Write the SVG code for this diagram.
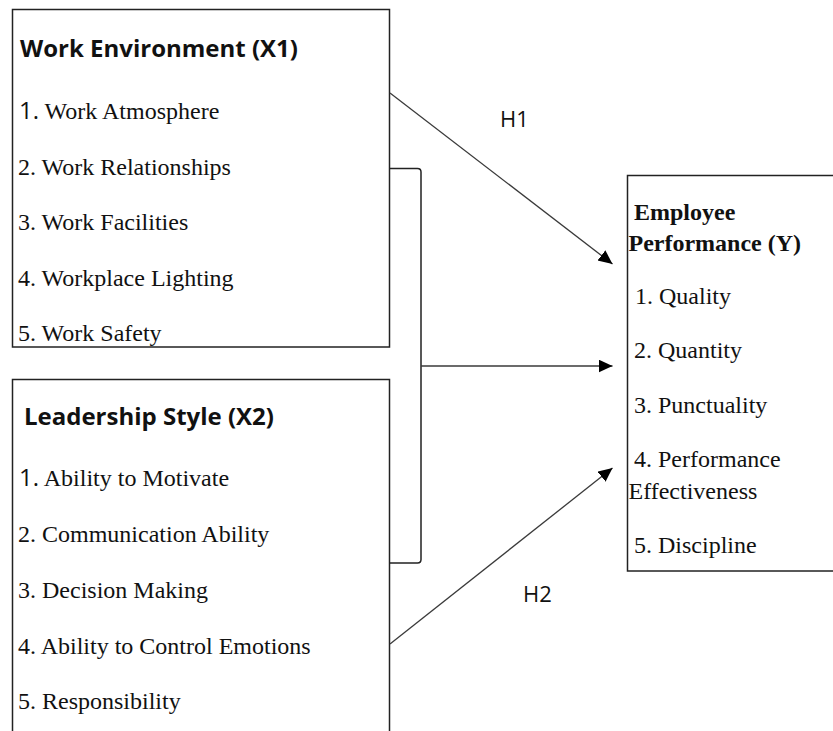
<svg xmlns="http://www.w3.org/2000/svg" width="833" height="731" viewBox="0 0 833 731">
  <defs>
    <style>
      .box { fill: #ffffff; stroke: #222222; stroke-width: 1.5; }
      .title { font-family: "Open Sans", "Liberation Sans", sans-serif; font-weight: bold; font-size: 24px; fill: #111111; }
      .item { font-family: "Liberation Serif", "Times New Roman", serif; font-size: 24px; fill: #111111; }
      .num { font-family: "Open Sans", "Liberation Sans", sans-serif; font-size: 24px; }
      .ytitle { font-family: "Liberation Serif", "Times New Roman", serif; font-weight: bold; font-size: 24px; fill: #111111; }
      .hlabel { font-family: "Open Sans", "Liberation Sans", sans-serif; font-size: 22px; fill: #111111; }
      .conn { fill: none; stroke: #3a3a3a; stroke-width: 1.3; }
      .bracket { fill: none; stroke: #222222; stroke-width: 1.5; }
    </style>
    <marker id="arrow" markerUnits="userSpaceOnUse" markerWidth="15" markerHeight="14" refX="14" refY="6.5" orient="auto">
      <path d="M0,0 L14,6.5 L0,13 Z" fill="#000000"/>
    </marker>
  </defs>
  <rect width="833" height="731" fill="#ffffff"/>

  <g id="node-x1">
    <rect class="box" x="12.5" y="9.5" width="377" height="337.5"/>
    <text class="title" x="20" y="56.5">Work Environment (X1)</text>
    <text class="item" x="19" y="118.5"><tspan class="num">1.</tspan> Work Atmosphere</text>
    <text class="item" x="18" y="174.5">2. Work Relationships</text>
    <text class="item" x="18" y="230">3. Work Facilities</text>
    <text class="item" x="18" y="285.5">4. Workplace Lighting</text>
    <text class="item" x="18" y="341">5. Work Safety</text>
  </g>

  <g id="node-x2">
    <rect class="box" x="12.5" y="379.5" width="377" height="360"/>
    <text class="title" x="24" y="425">Leadership Style (X2)</text>
    <text class="item" x="19" y="485.5"><tspan class="num">1.</tspan> Ability to Motivate</text>
    <text class="item" x="18" y="541.5">2. Communication Ability</text>
    <text class="item" x="18" y="597.5">3. Decision Making</text>
    <text class="item" x="18" y="653.5">4. Ability to Control Emotions</text>
    <text class="item" x="18" y="709">5. Responsibility</text>
  </g>

  <g id="node-y">
    <rect class="box" x="627.5" y="175.5" width="215" height="395.5"/>
    <text class="ytitle" x="634" y="219.5">Employee</text>
    <text class="ytitle" x="628.5" y="251">Performance (Y)</text>
    <text class="item" x="635" y="304">1. Quality</text>
    <text class="item" x="634" y="357.5">2. Quantity</text>
    <text class="item" x="634" y="413">3. Punctuality</text>
    <text class="item" x="634" y="467">4. Performance</text>
    <text class="item" x="628.5" y="498.5">Effectiveness</text>
    <text class="item" x="634" y="552.5">5. Discipline</text>
  </g>

  <g id="connectors">
    <path class="bracket" d="M389.5,168.5 H417.5 Q421,168.5 421,172 V559.5 Q421,563 417.5,563 H389.5"/>
    <line class="conn" x1="390" y1="93" x2="612.5" y2="264" marker-end="url(#arrow)"/>
    <line class="conn" x1="421" y1="366" x2="612.5" y2="366" marker-end="url(#arrow)"/>
    <line class="conn" x1="390" y1="644" x2="612.5" y2="468" marker-end="url(#arrow)"/>
    <text class="hlabel" x="500" y="127">H1</text>
    <text class="hlabel" x="523" y="601.5">H2</text>
  </g>
</svg>
